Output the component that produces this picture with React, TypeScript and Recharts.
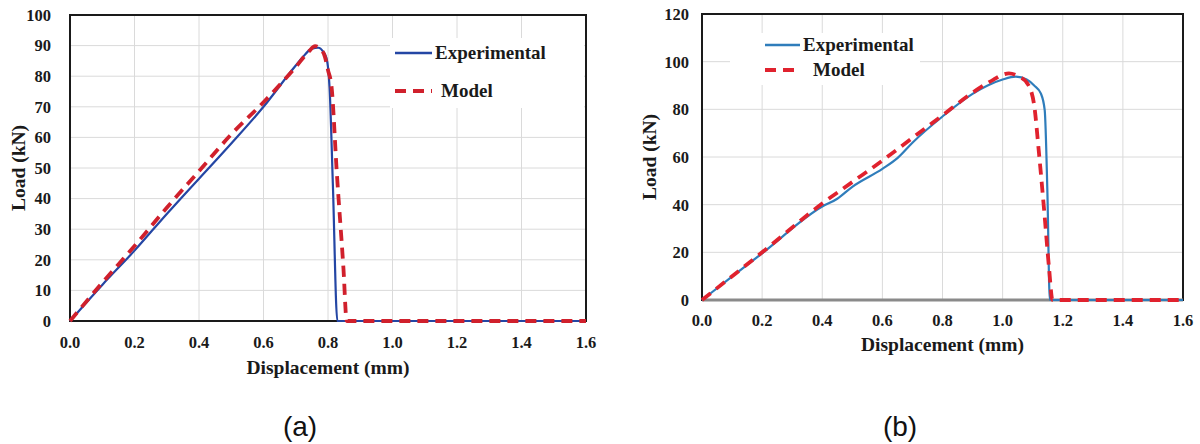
import { CartesianGrid, Label, Legend, Line, LineChart, ReferenceArea, ReferenceLine, XAxis, YAxis } from "recharts";

const serif = "'Liberation Serif', 'Times New Roman', serif";

// tick values
const dispTicks = [0, 0.2, 0.4, 0.6, 0.8, 1.0, 1.2, 1.4, 1.6];
const loadTicksA = [0, 10, 20, 30, 40, 50, 60, 70, 80, 90, 100];
const loadTicksB = [0, 20, 40, 60, 80, 100, 120];

// (a) experimental
const expDispA = [0, 0.1, 0.2, 0.3, 0.35, 0.4, 0.5, 0.6, 0.7, 0.72, 0.75, 0.77, 0.785, 0.795, 0.8, 0.805, 0.815, 0.829, 1.6];
const expLoadA = [0, 11.8, 23, 35, 40.8, 46.5, 58, 70, 83.5, 86, 89, 89.3, 88, 86, 83, 76, 45, 0, 0];
// (a) model
const modDispA = [0, 0.1, 0.2, 0.3, 0.4, 0.5, 0.6, 0.7, 0.74, 0.76, 0.775, 0.79, 0.8, 0.811, 0.827, 0.848, 0.858, 1.6];
const modLoadA = [0, 12.5, 24.5, 37, 49, 61, 71.5, 83, 88, 89.8, 89, 86.5, 82, 76.6, 49, 17, 0, 0];

// (b) experimental
const expDispB = [0, 0.2, 0.4, 0.45, 0.5, 0.6, 0.65, 0.7, 0.8, 0.9, 0.95, 1.0, 1.043, 1.08, 1.105, 1.127, 1.14, 1.149, 1.157, 1.6];
const expLoadB = [0, 19.6, 39.2, 42.5, 47.5, 55, 59.5, 66, 77, 86.5, 90, 92.5, 93.7, 92.5, 90, 86.7, 79.7, 44.8, 0, 0];
// (b) model
const modDispB = [0, 0.2, 0.4, 0.5, 0.6, 0.7, 0.8, 0.9, 0.97, 1.0, 1.021, 1.05, 1.082, 1.104, 1.121, 1.138, 1.154, 1.166, 1.6];
const modLoadB = [0, 20, 40.5, 49.5, 58.5, 68, 77.5, 87, 92.5, 94.5, 95.1, 94, 90.9, 82.5, 61.5, 37.8, 14, 0, 0];

const toPoints = (xs: number[], ys: number[]) => xs.map((x, i) => ({ disp: x, load: ys[i] }));

const LegendBox = ({ cfg }: { cfg: any }) => (
  <div style={{ position: "relative", width: cfg.w, height: cfg.h, background: "#fff", fontFamily: serif, fontWeight: "bold", fontSize: 19, color: "#1a1a1a" }}>
    <svg width={cfg.w} height={cfg.h} style={{ position: "absolute", left: 0, top: 0 }}>
      <line x1={cfg.lx1} x2={cfg.lx2} y1={cfg.r1} y2={cfg.r1} stroke={cfg.expColor} strokeWidth={2.5} />
      <line x1={cfg.lx1} x2={cfg.lx2} y1={cfg.r2} y2={cfg.r2} stroke={cfg.modColor} strokeWidth={4} strokeDasharray={cfg.dash} />
    </svg>
    <span style={{ position: "absolute", left: cfg.t1, top: cfg.r1 - 12, lineHeight: "24px", whiteSpace: "nowrap" }}>Experimental</span>
    <span style={{ position: "absolute", left: cfg.t2, top: cfg.r2 - 12, lineHeight: "24px", whiteSpace: "nowrap" }}>Model</span>
  </div>
);

const Panel = ({ p }: { p: any }) => {
  const tickStyle = { fontFamily: serif, fontWeight: "bold", fontSize: 16.5, fill: "#1a1a1a" };
  const titleStyle = { fontFamily: serif, fontWeight: "bold", fontSize: 19.5, fill: "#1a1a1a" };
  return (
    <div style={{ position: "absolute", left: p.left, top: 0 }}>
      <LineChart width={600} height={400} margin={p.margin}>
        <CartesianGrid stroke="#dadada" strokeWidth={1} />
        <XAxis
          type="number"
          dataKey="disp"
          domain={[0, 1.6]}
          ticks={dispTicks}
          interval={0}
          tickFormatter={(v: number) => v.toFixed(1)}
          axisLine={false}
          tickLine={false}
          tickMargin={p.xTickMargin}
          height={55}
          tick={tickStyle}
        >
          <Label value="Displacement (mm)" position="insideBottom" offset={p.xLabelOffset} style={titleStyle} />
        </XAxis>
        <YAxis
          type="number"
          dataKey="load"
          domain={[0, p.yMax]}
          ticks={p.yTicks}
          interval={0}
          axisLine={false}
          tickLine={false}
          tickMargin={p.yTickMargin}
          width={p.yWidth}
          tick={tickStyle}
        >
          <Label value="Load (kN)" angle={-90} position="insideLeft" offset={p.yLabelOffset} style={{ ...titleStyle, textAnchor: "middle" }} />
        </YAxis>
        <ReferenceArea x1={0} x2={1.6} y1={0} y2={p.yMax} fill="none" stroke="#1a1a1a" strokeWidth={2} ifOverflow="visible" />
        {p.baseColor && <ReferenceLine y={0} stroke={p.baseColor} strokeWidth={3} />}
        <Line data={p.exp} dataKey="load" name="Experimental" type="monotone" stroke={p.expColor} strokeWidth={2.2} dot={false} isAnimationActive={false} />
        <Line data={p.mod} dataKey="load" name="Model" type="monotone" stroke={p.modColor} strokeWidth={3.8} strokeDasharray={p.dash} dot={false} isAnimationActive={false} />
        <Legend
          verticalAlign="middle"
          align="center"
          layout="horizontal"
          wrapperStyle={{ left: p.legend.x, top: p.legend.y, width: p.legend.w, height: p.legend.h }}
          content={() => <LegendBox cfg={p.legend} />}
        />
      </LineChart>
    </div>
  );
};

const panelA = {
  left: 0,
  margin: { top: 15, right: 14, left: 0, bottom: 24 },
  yWidth: 70,
  yMax: 100,
  yTicks: loadTicksA,
  xTickMargin: 9,
  yTickMargin: 13,
  xLabelOffset: 2,
  yLabelOffset: 18,
  exp: toPoints(expDispA, expLoadA),
  mod: toPoints(modDispA, modLoadA),
  expColor: "#2446a4",
  modColor: "#d0202c",
  dash: "11 7",
  legend: { x: 390, y: 38, w: 194, h: 70, lx1: 5, lx2: 42, r1: 15, r2: 53, t1: 45, t2: 51, expColor: "#2446a4", modColor: "#d0202c", dash: "11 7" },
};

const panelB = {
  left: 600,
  margin: { top: 14, right: 17, left: 0, bottom: 45 },
  yWidth: 102,
  yMax: 120,
  yTicks: loadTicksB,
  xTickMargin: 8,
  yTickMargin: 7,
  xLabelOffset: 4,
  yLabelOffset: 49,
  exp: toPoints(expDispB, expLoadB),
  mod: toPoints(modDispB, modLoadB),
  expColor: "#2f7dbb",
  modColor: "#e0222e",
  dash: "11 7",
  baseColor: "#8a8a8a",
  legend: { x: 130, y: 33, w: 190, h: 52, lx1: 35, lx2: 70, r1: 12, r2: 37, t1: 73, t2: 83, expColor: "#2f7dbb", modColor: "#e0222e", dash: "11 7" },
};

const captionStyle: any = { position: "absolute", top: 409, width: 60, textAlign: "center", fontFamily: "'Liberation Sans', Arial, sans-serif", fontSize: 28, lineHeight: "36px", color: "#111" };

export default function App() {
  return (
    <div style={{ position: "absolute", left: 0, top: 0, width: 1200, height: 444, background: "#fff", overflow: "hidden" }}>
      <Panel p={panelA} />
      <Panel p={panelB} />
      <div style={{ ...captionStyle, left: 270 }}>(a)</div>
      <div style={{ ...captionStyle, left: 870 }}>(b)</div>
    </div>
  );
}
